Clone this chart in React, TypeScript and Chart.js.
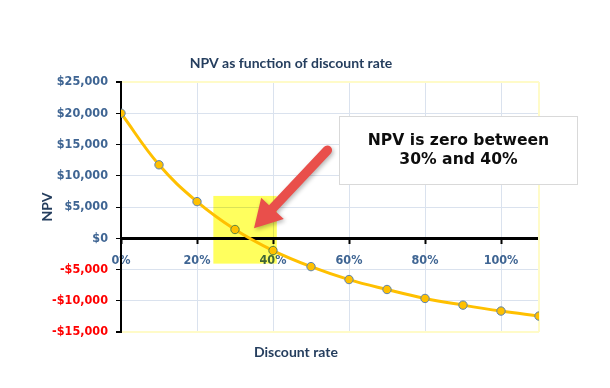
import React, { useEffect, useRef } from "react";
import { Chart, registerables } from "chart.js";

Chart.register(...registerables);

// ---- Data ----
const rates = [0, 0.1, 0.2, 0.3, 0.4, 0.5, 0.6, 0.7, 0.8, 0.9, 1.0, 1.1];
const npv = [20000, 11750, 5860, 1400, -1970, -4540, -6610, -8200, -9630, -10700, -11650, -12450];
const yTicks = [-15000, -10000, -5000, 0, 5000, 10000, 15000, 20000, 25000];
const xTickStep = 0.2;

const titleText = "NPV as function of discount rate";
const xTitle = "Discount rate";
const yTitle = "NPV";
const noteLines = ["NPV is zero between", "30% and 40%"];

// annotation geometry in data units
const highlight = { x0: 0.243, x1: 0.41, y0: 6770, y1: -4060 };
const arrow = { tailX: 0.543, tailY: 14090, tipX: 0.35, tipY: 1620 };
const noteBox = { x0: 0.574, x1: 1.2, y0: 19550, y1: 8680 };

const NAVY = "#253E5E";
const TICK_BLUE = "#3F6593";
const GRID = "#DAE2EE";
const EDGE_YELLOW = "#FFFBC8";
const TICK_FONT = { family: '"DejaVu Sans Condensed", "DejaVu Sans", sans-serif', size: 12.5, weight: "bold" as const };
const TITLE_FONT = { family: 'Lato, "Open Sans", sans-serif', size: 14, weight: "bold" as const };

const fmtMoney = (v: number) => {
  const s = Math.abs(v).toLocaleString("en-US");
  return v < 0 ? `-$${s}` : `$${s}`;
};

const overlayPlugin = {
  id: "overlay",
  beforeDatasetsDraw(chart: any) {
    const { ctx, chartArea: a } = chart;
    ctx.save();
    ctx.strokeStyle = EDGE_YELLOW;
    ctx.lineWidth = 2;
    ctx.beginPath();
    ctx.moveTo(a.right, a.top);
    ctx.lineTo(a.right, a.bottom);
    ctx.stroke();
    ctx.restore();
  },
  afterDraw(chart: any) {
    const { ctx, chartArea: a } = chart;
    const xs = chart.scales.x;
    const ys = chart.scales.y;
    ctx.save();
    // x axis title (centred like the chart title, not on the plot)
    ctx.fillStyle = NAVY;
    ctx.font = `bold ${TITLE_FONT.size}px ${TITLE_FONT.family}`;
    ctx.textAlign = "center";
    ctx.textBaseline = "middle";
    ctx.fillText(xTitle, (0 + a.right + 53) / 2, a.bottom + 20);

    // yellow highlight (multiplied over everything beneath)
    const hx0 = xs.getPixelForValue(highlight.x0);
    const hx1 = xs.getPixelForValue(highlight.x1);
    const hy0 = ys.getPixelForValue(highlight.y0);
    const hy1 = ys.getPixelForValue(highlight.y1);
    ctx.globalCompositeOperation = "multiply";
    ctx.fillStyle = "#FFFF5E";
    ctx.fillRect(hx0, hy0, hx1 - hx0, hy1 - hy0);
    ctx.globalCompositeOperation = "source-over";

    // arrow
    const tx = xs.getPixelForValue(arrow.tailX);
    const ty = ys.getPixelForValue(arrow.tailY);
    const px = xs.getPixelForValue(arrow.tipX);
    const py = ys.getPixelForValue(arrow.tipY);
    const len = Math.hypot(px - tx, py - ty);
    const ux = (px - tx) / len;
    const uy = (py - ty) / len;
    const nx = -uy;
    const ny = ux;
    const w = 9.5;
    const hw = 15.5;
    const hl = 27;
    const bx = px - ux * hl;
    const by = py - uy * hl;
    ctx.shadowColor = "rgba(0,0,0,0.28)";
    ctx.shadowBlur = 4;
    ctx.shadowOffsetX = 1.5;
    ctx.shadowOffsetY = 2;
    ctx.fillStyle = "#E94F4B";
    ctx.beginPath();
    ctx.moveTo(tx + nx * w / 2, ty + ny * w / 2);
    ctx.lineTo(bx + nx * w / 2, by + ny * w / 2);
    ctx.lineTo(bx + nx * hw, by + ny * hw);
    ctx.lineTo(px, py);
    ctx.lineTo(bx - nx * hw, by - ny * hw);
    ctx.lineTo(bx - nx * w / 2, by - ny * w / 2);
    ctx.lineTo(tx - nx * w / 2, ty - ny * w / 2);
    ctx.arc(tx, ty, w / 2, Math.atan2(-ny, -nx), Math.atan2(ny, nx), true);
    ctx.closePath();
    ctx.fill();
    ctx.shadowColor = "transparent";
    ctx.shadowBlur = 0;
    ctx.shadowOffsetX = 0;
    ctx.shadowOffsetY = 0;

    // note box
    const bx0 = Math.round(xs.getPixelForValue(noteBox.x0)) + 0.5;
    const bx1 = Math.round(xs.getPixelForValue(noteBox.x1)) + 0.5;
    const by0 = Math.round(ys.getPixelForValue(noteBox.y0)) + 0.5;
    const by1 = Math.round(ys.getPixelForValue(noteBox.y1)) + 0.5;
    ctx.fillStyle = "#FFFFFF";
    ctx.fillRect(bx0, by0, bx1 - bx0, by1 - by0);
    ctx.strokeStyle = "#D9D9D9";
    ctx.lineWidth = 1;
    ctx.strokeRect(bx0, by0, bx1 - bx0, by1 - by0);
    ctx.fillStyle = "#0D0D0D";
    ctx.font = 'bold 15.6px "DejaVu Sans", sans-serif';
    ctx.textAlign = "center";
    ctx.textBaseline = "middle";
    const cx = (bx0 + bx1) / 2;
    const cy = (by0 + by1) / 2;
    ctx.fillText(noteLines[0], cx, cy - 9.5);
    ctx.fillText(noteLines[1], cx, cy + 9.5);
    ctx.restore();
  },
};

export default function App() {
  const ref = useRef<HTMLCanvasElement | null>(null);
  useEffect(() => {
    if (!ref.current) return;
    const chart = new Chart(ref.current, {
      type: "line",
      data: {
        datasets: [
          {
            data: rates.map((r, i) => ({ x: r, y: npv[i] })),
            xAxisID: "x",
            yAxisID: "y",
            borderColor: "#FFC000",
            borderWidth: 3,
            tension: 0.4,
            pointRadius: 4.2,
            pointBackgroundColor: "#FFC000",
            pointBorderColor: "#5B82B1",
            pointBorderWidth: 1,
            fill: false,
          },
        ],
      },
      options: {
        animation: false,
        responsive: false,
        devicePixelRatio: 1,
        layout: { padding: { left: 0, right: 28, top: 0, bottom: 56 } },
        plugins: {
          legend: { display: false },
          tooltip: { enabled: false },
          title: {
            display: true,
            text: titleText,
            color: NAVY,
            font: TITLE_FONT,
            padding: { top: 54.6, bottom: 10.6 },
          },
        },
        scales: {
          x: {
            type: "linear",
            axis: "x",
            position: { y: 0 } as any,
            min: 0,
            max: 1.1,
            ticks: {
              stepSize: xTickStep,
              includeBounds: false,
              color: TICK_BLUE,
              font: TICK_FONT,
              padding: 11,
              maxRotation: 0,
              callback: (v: any) => `${Math.round(Number(v) * 100)}%`,
            },
            grid: { color: GRID, tickColor: "#000", tickLength: 4, tickWidth: 2, lineWidth: 1 },
            border: { color: "#000", width: 3 },
          },
          y: {
            type: "linear",
            axis: "y",
            position: "left",
            min: yTicks[0],
            max: yTicks[yTicks.length - 1],
            afterBuildTicks: (s: any) => {
              s.ticks = yTicks.map((v) => ({ value: v }));
            },
            afterFit: (s: any) => {
              s.width = 121;
            },
            ticks: {
              color: (c: any) => (c.tick && c.tick.value < 0 ? "#FF0000" : TICK_BLUE),
              font: TICK_FONT,
              padding: 8,
              callback: (v: any) => fmtMoney(Number(v)),
            },
            grid: {
              color: (c: any) =>
                c.tick && (c.tick.value === yTicks[0] || c.tick.value === yTicks[yTicks.length - 1]) ? EDGE_YELLOW : GRID,
              lineWidth: (c: any) =>
                c.tick && (c.tick.value === yTicks[0] || c.tick.value === yTicks[yTicks.length - 1]) ? 2 : 1,
              tickColor: "#000",
              tickLength: 5,
            },
            border: { color: "#000", width: 2 },
            title: { display: true, text: yTitle, color: NAVY, font: TITLE_FONT, padding: { top: 38.6, bottom: 0 } },
          },
          yr: {
            type: "linear",
            axis: "y",
            position: "right",
            ticks: { display: false },
            grid: { display: false, drawTicks: false },
            border: { display: false },
            afterFit: (s: any) => {
              s.width = 43;
            },
          },
        },
      } as any,
      plugins: [overlayPlugin],
    });
    return () => chart.destroy();
  }, []);
  return (
    <div style={{ position: "absolute", left: 0, top: 0, width: 610, height: 388, background: "#fff" }}>
      <canvas ref={ref} width={610} height={388} style={{ width: 610, height: 388, display: "block" }} />
    </div>
  );
}
